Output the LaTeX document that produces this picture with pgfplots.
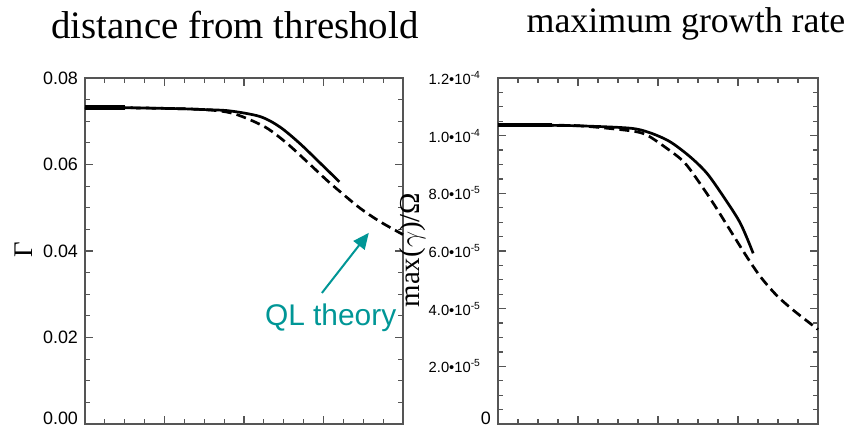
\documentclass[border=0pt]{standalone}
\usepackage{fontspec}
\setmainfont{Liberation Serif}
\newfontfamily\arial{Liberation Sans}
\usepackage{pgfplots}
\pgfplotsset{compat=1.18}
\usetikzlibrary{arrows.meta}

\definecolor{qlteal}{RGB}{0,150,150}
\definecolor{axgray}{RGB}{85,85,85}

\pgfplotsset{
  panel/.style={
    scale only axis,
    height=173bp,
    xmin=0, xmax=4,
    xtick={0,1,2,3,4}, minor x tick num=3, xticklabel=\empty,
    minor y tick num=3,
    scaled y ticks=false,
    axis line style={axgray, line width=0.75bp},
    every tick/.style={axgray, line width=0.6bp},
    major tick length=4bp, minor tick length=2.5bp,
    clip=false,
  },
  curve/.style={black, line width=1.35bp, smooth, tension=0.5},
  qlcurve/.style={black, line width=1.35bp, smooth, tension=0.5, dash pattern=on 5bp off 2.6bp},
}
% bottom tick label sits a little above the axis, as in the original
\newcommand{\lowlabel}[1]{\raisebox{0pt}[0pt][0pt]{#1}}

\begin{document}
\begin{tikzpicture}
\path[use as bounding box] (0,0) rectangle (427.5bp,-214.5bp);

% left panel
\begin{axis}[panel,
  at={(42.5bp,-212bp)}, anchor=south west,
  width=159bp,
  ymin=0, ymax=0.08,
  ytick={0,0.02,0.04,0.06,0.08},
  yticklabels={\lowlabel{0.00},0.02,0.04,0.06,0.08},
  yticklabel style={font=\arial\fontsize{9}{9}\selectfont},
]
\addplot[curve] coordinates {
  (0,0.0732) (0.6,0.0731) (1.2,0.0729) (1.5,0.0727) (1.82,0.0724) (2.2,0.0711)
  (2.45,0.0687) (2.7,0.0649) (2.96,0.0603) (3.2,0.0560)
};
\addplot[qlcurve] coordinates {
  (0,0.0732) (0.6,0.0731) (1.2,0.0729) (1.57,0.0726) (1.82,0.0720) (2.03,0.0707)
  (2.29,0.0684) (2.54,0.0649) (2.79,0.0607) (3.04,0.0564) (3.21,0.0537)
  (3.46,0.0499) (3.71,0.0468) (4.0,0.0438)
};
\addplot[black, line width=2.2bp] coordinates {(0,0.0732) (0.5,0.0732)};
\draw[qlteal, line width=1bp, -{Triangle[length=8bp,width=7bp]}]
  (axis cs:2.98,0.0303) -- (axis cs:3.57,0.0442);
\node[anchor=base, text=qlteal, font=\arial\fontsize{15}{15}\selectfont]
  at (axis cs:3.09,0.0227) {QL theory};
\end{axis}

% right panel
\begin{axis}[panel,
  at={(249bp,-212bp)}, anchor=south west,
  width=160bp,
  ymin=0, ymax=1.2e-4,
  ytick={0,2e-5,4e-5,6e-5,8e-5,1e-4,1.2e-4},
  yticklabels={\lowlabel{\fontsize{9}{9}\selectfont 0},
    2.0•10\textsuperscript{-5}\hspace*{5bp},
    4.0•10\textsuperscript{-5}\hspace*{5bp},
    6.0•10\textsuperscript{-5}\hspace*{5bp},
    8.0•10\textsuperscript{-5}\hspace*{5bp},
    1.0•10\textsuperscript{-4}\hspace*{5bp},
    1.2•10\textsuperscript{-4}\hspace*{5bp}},
  yticklabel style={font=\arial\fontsize{7.4}{8}\selectfont},
]
\addplot[curve] coordinates {
  (0,10.37e-5) (0.6,10.36e-5) (1.03,10.34e-5) (1.65,10.26e-5) (1.9,10.10e-5)
  (2.15,9.79e-5) (2.4,9.27e-5) (2.61,8.70e-5) (2.82,7.88e-5) (3.03,6.96e-5)
  (3.19,5.92e-5)
};
\addplot[qlcurve] coordinates {
  (0,10.37e-5) (0.6,10.36e-5) (1.03,10.34e-5) (1.65,10.17e-5) (1.86,10.02e-5)
  (2.11,9.56e-5) (2.32,9.10e-5) (2.48,8.52e-5) (2.69,7.66e-5) (2.9,6.73e-5)
  (3.11,5.80e-5) (3.28,5.11e-5) (3.48,4.47e-5) (3.69,3.95e-5) (4.0,3.28e-5)
};
\addplot[black, line width=2.2bp] coordinates {(0,10.37e-5) (0.67,10.37e-5)};
\end{axis}

% titles and axis labels
\node[anchor=base, font=\fontsize{19.5}{20}\selectfont] at (117.5bp,-19bp) {distance from threshold};
\node[anchor=base, font=\fontsize{18}{19}\selectfont] at (343bp,-16bp) {maximum growth rate};
\node[rotate=90, font=\fontsize{13.5}{14}\selectfont] at (12bp,-125bp) {Γ};
\node[rotate=90, font=\fontsize{14.5}{16}\selectfont] at (206.5bp,-125bp) {max($\gamma$)/Ω};
\end{tikzpicture}
\end{document}
